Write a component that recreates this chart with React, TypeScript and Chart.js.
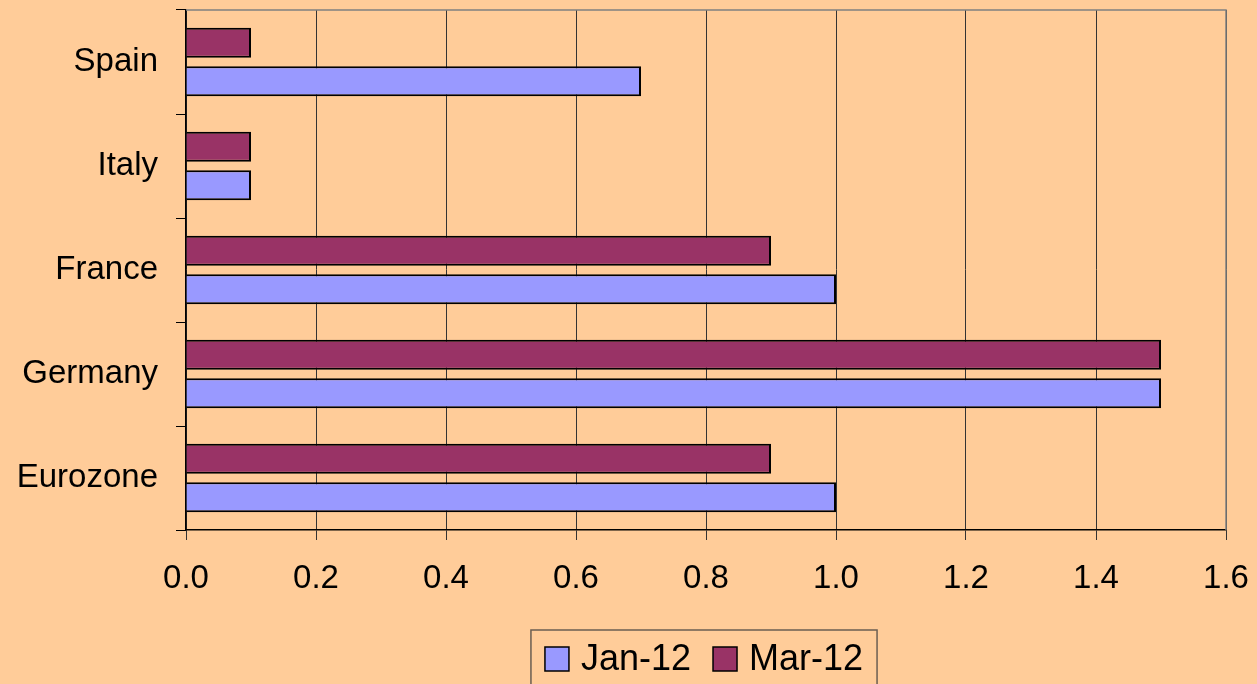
import React, { useEffect, useRef } from "react";
import { Chart, registerables } from "chart.js";

Chart.register(...registerables);

const categories = ["Eurozone", "Germany", "France", "Italy", "Spain"];
const jan12 = [1.0, 1.5, 1.0, 0.1, 0.7];
const mar12 = [0.9, 1.5, 0.9, 0.1, 0.1];
const seriesNames = ["Jan-12", "Mar-12"];
const seriesColors = ["#9999FF", "#993366"];
const xTicks = [0, 0.2, 0.4, 0.6, 0.8, 1.0, 1.2, 1.4, 1.6];

const BG = "#FFCC99";
const FONT = "'Liberation Sans', Arial, sans-serif";

const framePlugin = {
  id: "frame",
  afterDraw(chart: any) {
    const { ctx, chartArea, height } = chart;
    ctx.save();
    // plot border (top and right)
    ctx.strokeStyle = "#808080";
    ctx.lineWidth = 1.5;
    ctx.beginPath();
    ctx.moveTo(chartArea.left, chartArea.top);
    ctx.lineTo(chartArea.right, chartArea.top);
    ctx.lineTo(chartArea.right, chartArea.bottom);
    ctx.stroke();

    // legend (Jan-12 first, Mar-12 second)
    const box = 24;
    const gapText = 12;
    const gapItem = 22;
    const pad = 14;
    ctx.font = `36px ${FONT}`;
    const widths = seriesNames.map((n) => ctx.measureText(n).width);
    const total =
      widths.reduce((a, b) => a + b, 0) +
      seriesNames.length * (box + gapText) +
      gapItem * (seriesNames.length - 1);
    const center = (chartArea.left + chartArea.right) / 2 - 2;
    const frameLeft = center - total / 2 - pad;
    const frameTop = height - 54;
    const cy = height - 25;
    ctx.strokeStyle = "#6b5e52";
    ctx.lineWidth = 1.5;
    ctx.strokeRect(frameLeft, frameTop, total + pad * 2, 80);
    let x = center - total / 2;
    ctx.textBaseline = "middle";
    ctx.textAlign = "left";
    seriesNames.forEach((n, i) => {
      ctx.fillStyle = seriesColors[i];
      ctx.fillRect(x, cy - box / 2, box, box);
      ctx.strokeStyle = "#000000";
      ctx.lineWidth = 1.5;
      ctx.strokeRect(x, cy - box / 2, box, box);
      ctx.fillStyle = "#000000";
      ctx.fillText(n, x + box + gapText, cy + 1);
      x += box + gapText + widths[i] + gapItem;
    });
    ctx.restore();
  },
};

export default function App() {
  const ref = useRef<HTMLCanvasElement | null>(null);
  useEffect(() => {
    if (!ref.current) return;
    const chart = new Chart(ref.current, {
      type: "bar",
      data: {
        labels: categories,
        // Mar-12 listed first so it sits above Jan-12 within each group
        datasets: [
          {
            label: seriesNames[1],
            data: mar12,
            backgroundColor: seriesColors[1],
            borderColor: "#000000",
            borderWidth: 2,
            categoryPercentage: 0.74,
            barPercentage: 0.78,
          },
          {
            label: seriesNames[0],
            data: jan12,
            backgroundColor: seriesColors[0],
            borderColor: "#000000",
            borderWidth: 2,
            categoryPercentage: 0.74,
            barPercentage: 0.78,
          },
        ],
      },
      options: {
        indexAxis: "y",
        animation: false,
        responsive: false,
        layout: { padding: { left: 0, top: 10, right: 31, bottom: 54 } },
        scales: {
          y: {
            reverse: true,
            grid: {
              display: true,
              offset: true,
              drawOnChartArea: false,
              drawTicks: true,
              tickLength: 10,
              color: "#000000",
              lineWidth: 1,
            },
            border: { display: true, color: "#000000", width: 1.5 },
            ticks: {
              color: "#000000",
              font: { family: FONT, size: 33 },
              padding: 18,
            },
            afterFit: (s: any) => {
              s.width = 186;
              s.paddingTop = 0;
              s.paddingBottom = 0;
            },
          },
          x: {
            min: 0,
            max: 1.6,
            afterBuildTicks: (s: any) => {
              s.ticks = xTicks.map((v) => ({ value: v }));
            },
            grid: {
              color: "#333333",
              lineWidth: 1,
              tickLength: 10,
            },
            border: { display: true, color: "#000000", width: 1.5 },
            ticks: {
              color: "#000000",
              font: { family: FONT, size: 33 },
              padding: 19,
              maxRotation: 0,
              callback: (v: any) => Number(v).toFixed(1),
            },
            afterFit: (s: any) => {
              s.height = 100;
              s.paddingLeft = 0;
              s.paddingRight = 0;
            },
          },
        },
        plugins: {
          legend: { display: false },
          tooltip: { enabled: false },
        },
      },
      plugins: [framePlugin],
    });
    return () => chart.destroy();
  }, []);
  return (
    <div
      style={{
        position: "absolute",
        left: 0,
        top: 0,
        width: 1257,
        height: 684,
        background: BG,
        overflow: "hidden",
      }}
    >
      <canvas ref={ref} width={1257} height={684} style={{ display: "block" }} />
    </div>
  );
}
